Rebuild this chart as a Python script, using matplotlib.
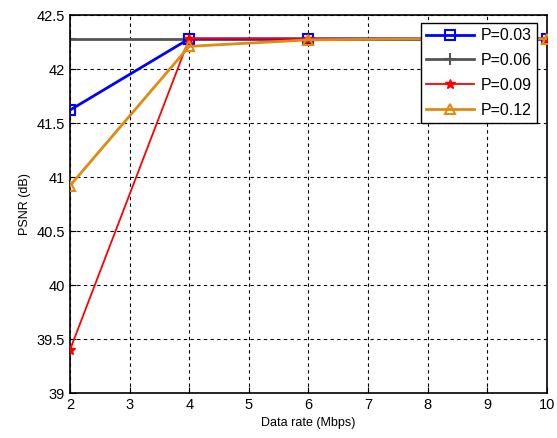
import matplotlib
matplotlib.use("Agg")
import matplotlib.pyplot as plt

plt.rcParams['font.family'] = ['Liberation Sans', 'DejaVu Sans']

# data
data_rate = [2, 4, 6, 8, 10]
psnr_p003 = [41.62, 42.28, 42.28, 42.28, 42.28]
psnr_p006 = [42.28, 42.28, 42.28, 42.28, 42.28]
psnr_p009 = [39.40, 42.28, 42.28, 42.28, 42.28]
psnr_p012 = [40.92, 42.21, 42.27, 42.28, 42.28]

fig = plt.figure(figsize=(5.57, 4.38), dpi=100)
ax = fig.add_axes([0.1257, 0.1027, 0.856, 0.863])

ax.plot(data_rate, psnr_p006, color="#555555", lw=2, marker="+", ms=8, mew=1.5, label="P=0.06", zorder=2)
ax.plot(data_rate, psnr_p003, color="#0000ff", lw=2, marker="s", ms=7, mfc="none", mew=1.5, label="P=0.03", zorder=3)
ax.plot(data_rate, psnr_p009, color="#ff0000", lw=1.3, marker="*", ms=7, label="P=0.09", zorder=4)
ax.plot(data_rate, psnr_p012, color="#e08a10", lw=2, marker="^", ms=7, mfc="none", mew=1.5, label="P=0.12", zorder=5)

ax.set_xlim(2, 10)
ax.set_ylim(39, 42.5)
ax.set_xticks(range(2, 11))
ax.set_yticks([39, 39.5, 40, 40.5, 41, 41.5, 42, 42.5])
ax.set_yticklabels(["39", "39.5", "40", "40.5", "41", "41.5", "42", "42.5"])
ax.grid(True, color="black", linestyle=(0, (3, 3)), lw=0.8)
ax.tick_params(direction="in", labelsize=10.5, length=4)
for s in ax.spines.values():
    s.set_linewidth(1.2)

ax.set_xlabel("Data rate (Mbps)", fontsize=9)
ax.set_ylabel("PSNR (dB)", fontsize=9)

h, l = ax.get_legend_handles_labels()
order = [1, 0, 2, 3]
leg = ax.legend([h[i] for i in order], [l[i] for i in order], loc="upper right",
                bbox_to_anchor=(0.98, 0.98), fontsize=11.5, fancybox=False,
                edgecolor="black", framealpha=1, handlelength=3, borderaxespad=0,
                labelspacing=0.62, handletextpad=0.4, borderpad=0.35)
leg.get_frame().set_linewidth(1)

fig.savefig("out.png", dpi=100)
